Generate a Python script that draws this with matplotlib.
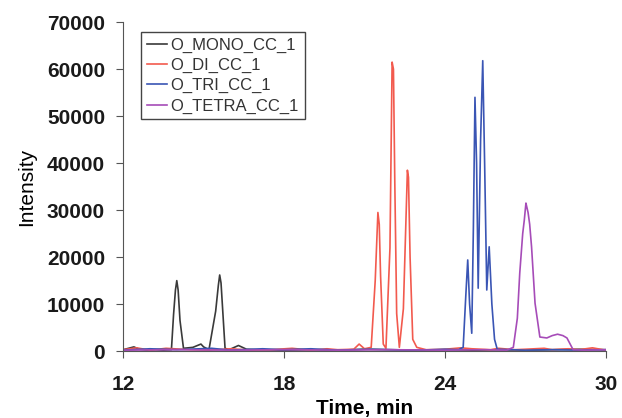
import matplotlib
matplotlib.use("Agg")
import matplotlib.pyplot as plt

# chromatogram traces (time in min, intensity)
mono_t = [12.0, 12.4, 12.6, 12.9, 13.2, 13.5, 13.8, 13.88, 13.95, 14.0, 14.05, 14.12, 14.25,
          14.6, 14.9, 15.0, 15.2, 15.45, 15.55, 15.6, 15.65, 15.72, 15.8, 15.95, 16.3, 16.6,
          17.0, 18.0, 19.0, 20.0, 21.0, 22.0, 23.0, 24.0, 25.0, 26.0, 27.0, 28.0, 29.0, 30.0]
mono_i = [300, 900, 400, 200, 300, 200, 300, 7800, 13000, 15000, 13000, 6500, 600,
          800, 1500, 900, 300, 8500, 14000, 16200, 14500, 8000, 600, 300, 1200, 400,
          300, 200, 300, 200, 400, 300, 200, 300, 200, 300, 200, 300, 400, 300]

di_t = [12.0, 12.5, 13.0, 13.6, 14.5, 15.2, 16.0, 16.8, 17.5, 18.3, 19.0, 19.6, 20.0, 20.6,
        20.8, 21.0, 21.25, 21.4, 21.5, 21.55, 21.6, 21.7, 21.8, 21.95, 22.03, 22.08, 22.13,
        22.2, 22.3, 22.45, 22.6, 22.64, 22.7, 22.8, 22.95, 23.3, 24.0, 24.6, 25.0, 25.7, 26.0,
        26.6, 27.0, 27.7, 28.0, 28.6, 29.0, 29.5, 30.0]
di_i = [300, 700, 200, 600, 300, 200, 500, 200, 300, 600, 200, 500, 300, 400,
        1500, 500, 800, 15000, 29500, 27000, 16000, 1500, 600, 22000, 61500, 60000, 36000,
        8000, 800, 9000, 38500, 37000, 20000, 2500, 800, 300, 400, 700, 500, 300, 600,
        300, 400, 600, 300, 500, 300, 700, 200]

tri_t = [12.0, 13.0, 14.0, 15.3, 16.0, 17.2, 18.0, 19.0, 20.0, 21.2, 22.0, 23.0, 24.0, 24.5,
         24.68, 24.78, 24.85, 24.92, 25.0, 25.06, 25.12, 25.18, 25.24, 25.33, 25.41, 25.48,
         25.56, 25.65, 25.75, 25.85, 25.95, 26.5, 27.0, 28.0, 29.0, 30.0]
tri_i = [200, 500, 300, 600, 200, 500, 300, 500, 200, 400, 300, 200, 400, 300,
         800, 12000, 19400, 10000, 3800, 26000, 54000, 40000, 13400, 45000, 61800, 40000,
         13000, 22200, 10000, 2500, 400, 300, 200, 300, 200, 300]

tetra_t = [12.0, 14.0, 16.0, 18.0, 20.0, 22.0, 24.0, 25.5, 26.3, 26.55, 26.7, 26.79, 26.9,
           26.96, 27.02, 27.06, 27.1, 27.16, 27.23, 27.36, 27.54, 27.8, 28.0, 28.2, 28.4,
           28.55, 28.78, 29.2, 30.0]
tetra_i = [200, 300, 200, 300, 200, 300, 200, 300, 200, 800, 7000, 16600, 25000,
           27900, 31500, 30500, 29500, 27000, 22200, 10200, 3000, 2800, 3300, 3600, 3300,
           2800, 300, 200, 300]

names = ["O_MONO_CC_1", "O_DI_CC_1", "O_TRI_CC_1", "O_TETRA_CC_1"]
colors = ["#3a3a3a", "#f25a4e", "#3a55b4", "#a64cb8"]
x_ticks = [12, 18, 24, 30]
y_ticks = [0, 10000, 20000, 30000, 40000, 50000, 60000, 70000]

plt.rcParams["font.family"] = ["Liberation Sans", "DejaVu Sans"]

fig = plt.figure(figsize=(6.22, 4.18), dpi=100)
ax = fig.add_axes([0.198, 0.160, 0.776, 0.787])

series = [(mono_t, mono_i), (di_t, di_i), (tri_t, tri_i), (tetra_t, tetra_i)]
for (t, i), name, c in zip(series, names, colors):
    ax.plot(t, i, color=c, lw=1.2, label=name)

ax.set_xlim(12, 30)
ax.set_ylim(0, 70000)
ax.set_xticks(x_ticks)
ax.set_yticks(y_ticks)
ax.tick_params(axis="both", direction="out", length=5, labelsize=15, color="#555555")
ax.tick_params(axis="x", pad=12)
ax.tick_params(axis="y", pad=8)
for lab in ax.get_xticklabels() + ax.get_yticklabels():
    lab.set_fontweight("bold")
    lab.set_color("#1a1a1a")

ax.spines["top"].set_visible(False)
ax.spines["right"].set_visible(False)
ax.spines["left"].set_color("#555555")
ax.spines["bottom"].set_color("#555555")

ax.set_xlabel("Time, min", fontsize=15, fontweight="bold", labelpad=4)
ax.set_ylabel("Intensity", fontsize=15, labelpad=8)

leg = ax.legend(loc="upper left", bbox_to_anchor=(0.02, 0.995), fontsize=12,
                handlelength=1.2, handletextpad=0.2, borderpad=0.35, labelspacing=0.3,
                fancybox=False, framealpha=1)
leg.get_frame().set_edgecolor("#444444")
leg.get_frame().set_linewidth(1.0)
for txt in leg.get_texts():
    txt.set_color("#333333")

fig.savefig("out.png", dpi=100)
